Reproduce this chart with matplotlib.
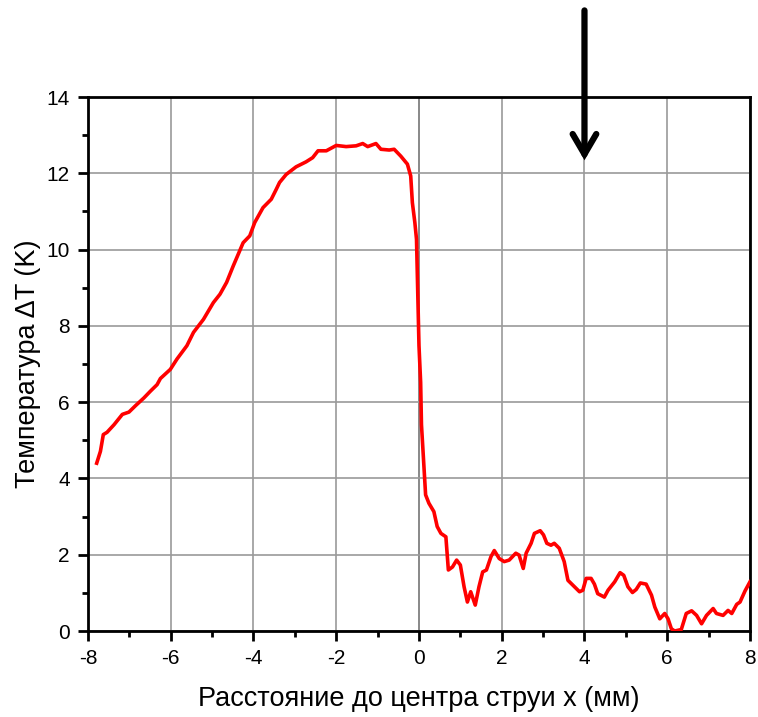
import matplotlib
matplotlib.use("Agg")
import matplotlib.pyplot as plt
from matplotlib.ticker import MultipleLocator

plt.rcParams['font.family'] = ['Liberation Sans', 'DejaVu Sans']
plt.rcParams['axes.unicode_minus'] = False

# Temperature profile across the jet
x_mm = [-7.79, -7.70, -7.63, -7.54, -7.37, -7.17, -7.01, -6.85, -6.65, -6.49,
        -6.33, -6.25, -6.01, -5.85, -5.61, -5.45, -5.21, -4.97, -4.81, -4.65,
        -4.49, -4.25, -4.09, -3.97, -3.77, -3.57, -3.45, -3.37, -3.21, -2.97,
        -2.73, -2.57, -2.44, -2.24, -2.00, -1.76, -1.52, -1.36, -1.24, -1.04,
        -0.92, -0.72, -0.60, -0.44, -0.28, -0.20, -0.16, -0.10, -0.06, -0.04,
        -0.02, 0.00, 0.04, 0.06, 0.10, 0.16, 0.24, 0.36, 0.44, 0.53,
        0.65, 0.71, 0.81, 0.91, 1.00, 1.09, 1.17, 1.25, 1.36, 1.45,
        1.54, 1.63, 1.74, 1.82, 1.94, 2.06, 2.18, 2.34, 2.42, 2.52,
        2.59, 2.71, 2.79, 2.93, 3.01, 3.09, 3.19, 3.27, 3.39, 3.51,
        3.60, 3.72, 3.88, 3.96, 4.04, 4.16, 4.24, 4.32, 4.48, 4.57,
        4.73, 4.86, 4.95, 5.05, 5.16, 5.25, 5.35, 5.49, 5.62, 5.70,
        5.82, 5.94, 6.02, 6.10, 6.18, 6.34, 6.46, 6.59, 6.71, 6.83,
        6.95, 7.11, 7.19, 7.35, 7.47, 7.56, 7.68, 7.76, 7.88, 8.00]
dT_K = [4.40, 4.71, 5.15, 5.21, 5.41, 5.68, 5.74, 5.91, 6.11, 6.29,
        6.46, 6.62, 6.86, 7.13, 7.48, 7.83, 8.17, 8.61, 8.83, 9.14,
        9.57, 10.18, 10.36, 10.71, 11.10, 11.32, 11.58, 11.76, 11.97, 12.17,
        12.30, 12.41, 12.59, 12.59, 12.73, 12.70, 12.72, 12.78, 12.70, 12.78,
        12.63, 12.61, 12.63, 12.45, 12.24, 11.93, 11.23, 10.71, 10.27, 9.31,
        8.44, 7.48, 6.52, 5.41, 4.67, 3.57, 3.35, 3.13, 2.74, 2.56,
        2.47, 1.60, 1.68, 1.86, 1.73, 1.16, 0.76, 1.03, 0.68, 1.16,
        1.55, 1.60, 1.95, 2.11, 1.90, 1.82, 1.86, 2.04, 1.99, 1.64,
        2.04, 2.30, 2.56, 2.63, 2.52, 2.30, 2.25, 2.30, 2.17, 1.82,
        1.33, 1.20, 1.03, 1.07, 1.38, 1.38, 1.23, 0.98, 0.89, 1.07,
        1.29, 1.53, 1.46, 1.16, 1.01, 1.09, 1.26, 1.23, 0.94, 0.63,
        0.32, 0.46, 0.32, 0.06, 0.00, 0.04, 0.46, 0.53, 0.41, 0.19,
        0.41, 0.59, 0.46, 0.41, 0.54, 0.46, 0.70, 0.76, 1.05, 1.29]

x_ticks = [-8, -6, -4, -2, 0, 2, 4, 6, 8]
y_ticks = [0, 2, 4, 6, 8, 10, 12, 14]
arrow_x = 4.0

fig = plt.figure(figsize=(7.58, 7.17), dpi=100)
ax = fig.add_axes([0.1161, 0.1199, 0.8733, 0.7448])

ax.set_xlim(-8, 8)
ax.set_ylim(0, 14)
ax.set_xticks(x_ticks)
ax.set_yticks(y_ticks)
ax.xaxis.set_minor_locator(MultipleLocator(1))
ax.yaxis.set_minor_locator(MultipleLocator(1))

ax.grid(True, which='major', color='#9a9a9a', linewidth=1.2, zorder=0)
ax.axvline(0, color='#333333', linewidth=1.3, zorder=1)

ax.plot(x_mm, dT_K, color='red', linewidth=2.6, zorder=3)

for s in ax.spines.values():
    s.set_linewidth(2.0)
    s.set_color('black')

ax.tick_params(axis='both', which='major', direction='out', length=7, width=2,
               labelsize=15, pad=6, top=False, right=False)
ax.tick_params(axis='both', which='minor', direction='out', length=4, width=2,
               top=False, right=False)

ax.set_xlabel('Расстояние до центра струи x (мм)', fontsize=19.5, labelpad=13)
ax.set_ylabel('Температура ΔT (K)', fontsize=19.5, labelpad=4)

ax.annotate('', xy=(arrow_x, 12.34), xytext=(arrow_x, 16.27),
            xycoords='data', textcoords='data', annotation_clip=False,
            arrowprops=dict(arrowstyle='->,head_length=1.45,head_width=0.85',
                            lw=4.5, color='black', shrinkA=0, shrinkB=0,
                            capstyle='round', joinstyle='miter'))

fig.savefig('out.png', dpi=100)
